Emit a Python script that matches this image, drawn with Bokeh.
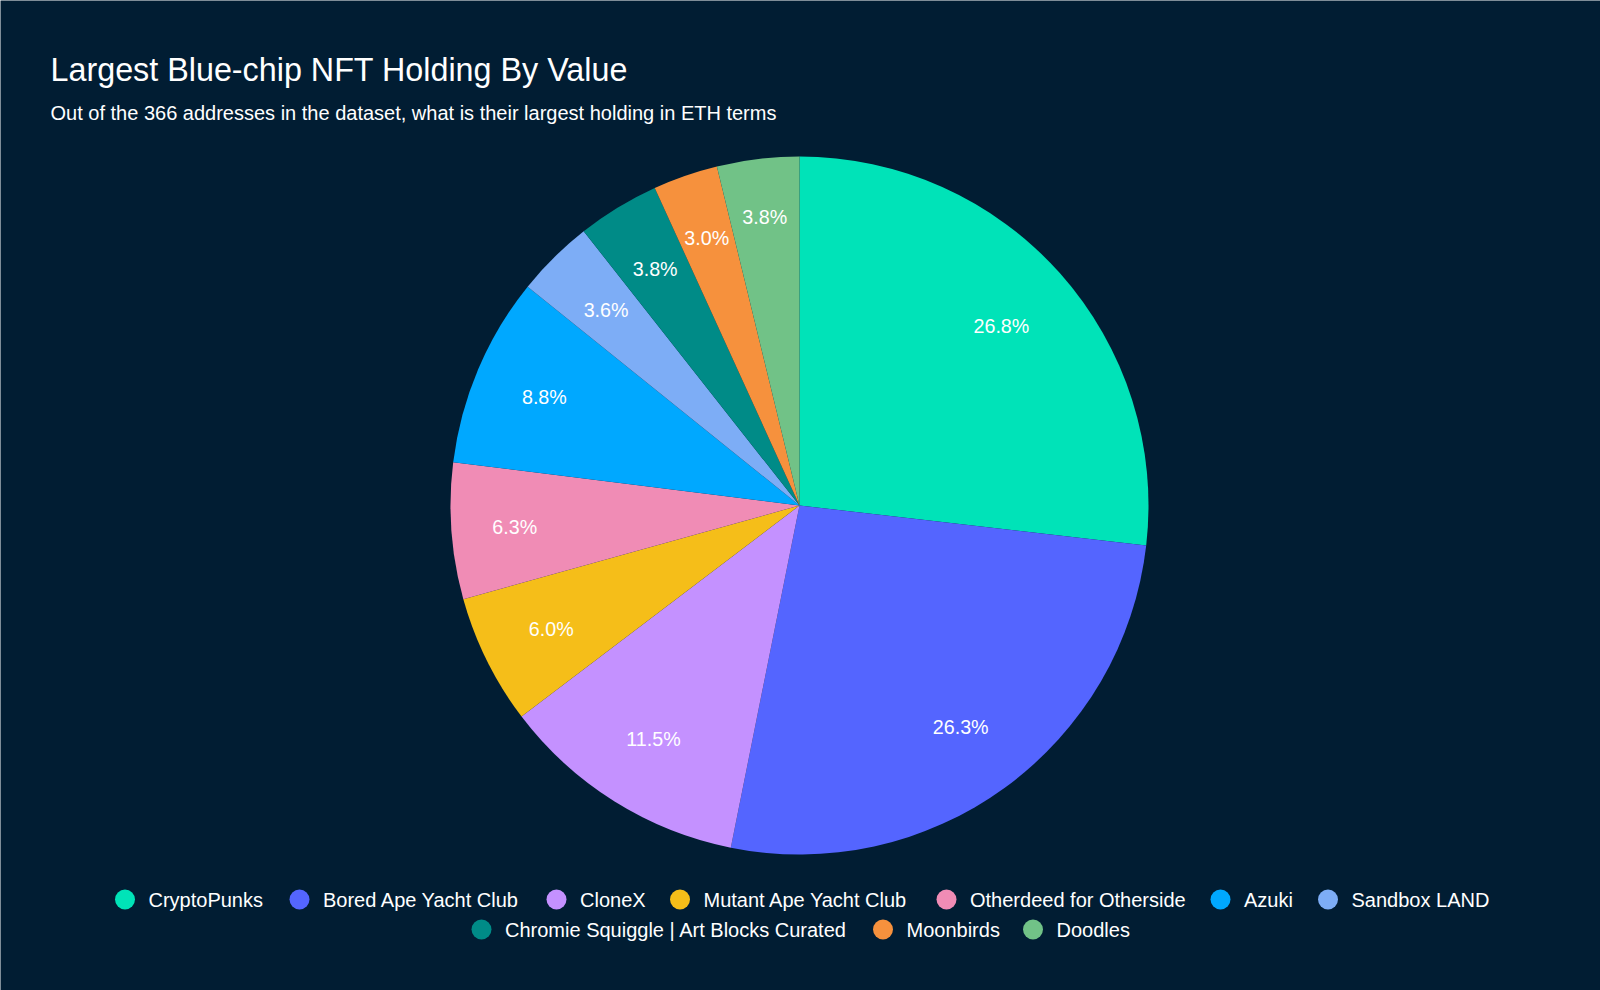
import math
from bokeh.plotting import figure
from bokeh.models import ColumnDataSource, Range1d
from bokeh.core.properties import value
from bokeh.embed import file_html
from bokeh.resources import INLINE

# ---- data ----
names = ["CryptoPunks", "Bored Ape Yacht Club", "CloneX", "Mutant Ape Yacht Club",
         "Otherdeed for Otherside", "Azuki", "Sandbox LAND",
         "Chromie Squiggle | Art Blocks Curated", "Moonbirds", "Doodles"]
shares = [26.8, 26.3, 11.5, 6.0, 6.3, 8.8, 3.6, 3.8, 3.0, 3.8]
colors = ["#00E3B8", "#5465FF", "#C491FF", "#F5BE19", "#F08CB5",
          "#00A8FF", "#7DADF6", "#008B87", "#F6913D", "#71C287"]
title_text = "Largest Blue-chip NFT Holding By Value"
subtitle_text = "Out of the 366 addresses in the dataset, what is their largest holding in ETH terms"

BG = "#011D33"
FONT = "Liberation Sans"
W, H = 1600, 990

def Y(ys):
    return H - ys

# ---- pie geometry (layout) ----
cx, cy, R = 799, Y(505), 349
# label distance from centre, as fraction of radius (per slice, layout only)
lab_frac = [0.775, 0.785, 0.788, 0.794, 0.818, 0.794, 0.788, 0.795, 0.812, 0.834]
total = sum(shares)
starts, ends, lx, ly, labels = [], [], [], [], []
cum = 0.0
for s, f in zip(shares, lab_frac):
    a0 = math.pi / 2 - 2 * math.pi * cum / total
    cum += s
    a1 = math.pi / 2 - 2 * math.pi * cum / total
    mid = (a0 + a1) / 2
    starts.append(a0)
    ends.append(a1)
    lx.append(cx + f * R * math.cos(mid))
    ly.append(cy + f * R * math.sin(mid))
    labels.append(f"{s:.1f}%")

src = ColumnDataSource(dict(start=starts, end=ends, color=colors, name=names,
                            lx=lx, ly=ly, label=labels))

p = figure(width=W, height=H, x_range=Range1d(0, W), y_range=Range1d(0, H),
           output_backend="svg", toolbar_location=None, min_border=0,
           background_fill_color=BG, border_fill_color=BG, outline_line_color=None)
p.axis.visible = False
p.grid.visible = False

p.wedge(x=cx, y=cy, radius=R, start_angle="start", end_angle="end",
        direction="clock", fill_color="color", line_color=None, source=src)

p.text(x="lx", y="ly", text="label", source=src, text_color="white",
       text_font=value(FONT), text_font_size=value("19.7px"),
       text_align="center", text_baseline="middle")

# ---- title ----
p.text(x=[50], y=[Y(69)], text=[title_text], text_color="white",
       text_font=value(FONT), text_font_size=value("32.3px"),
       text_align="left", text_baseline="middle")
p.text(x=[50], y=[Y(112)], text=[subtitle_text], text_color="white",
       text_font=value(FONT), text_font_size=value("20px"),
       text_align="left", text_baseline="middle")

# ---- legend (manual, two centred rows) ----
leg_circle_x = [124.5, 299, 556, 679.5, 946, 1220, 1327.5, 481, 882.5, 1032.5]
leg_row_y = [899] * 7 + [929] * 3
leg_src = ColumnDataSource(dict(x=leg_circle_x, y=[Y(v) for v in leg_row_y],
                                tx=[v + 23.5 for v in leg_circle_x],
                                color=colors, name=names))
p.scatter(x="x", y="y", size=20, marker="circle", fill_color="color",
          line_color=None, source=leg_src)
p.text(x="tx", y="y", text="name", source=leg_src, text_color="white",
       text_font=value(FONT), text_font_size=value("20px"),
       text_align="left", text_baseline="middle")

open("out.html", "w").write(file_html(p, INLINE))
